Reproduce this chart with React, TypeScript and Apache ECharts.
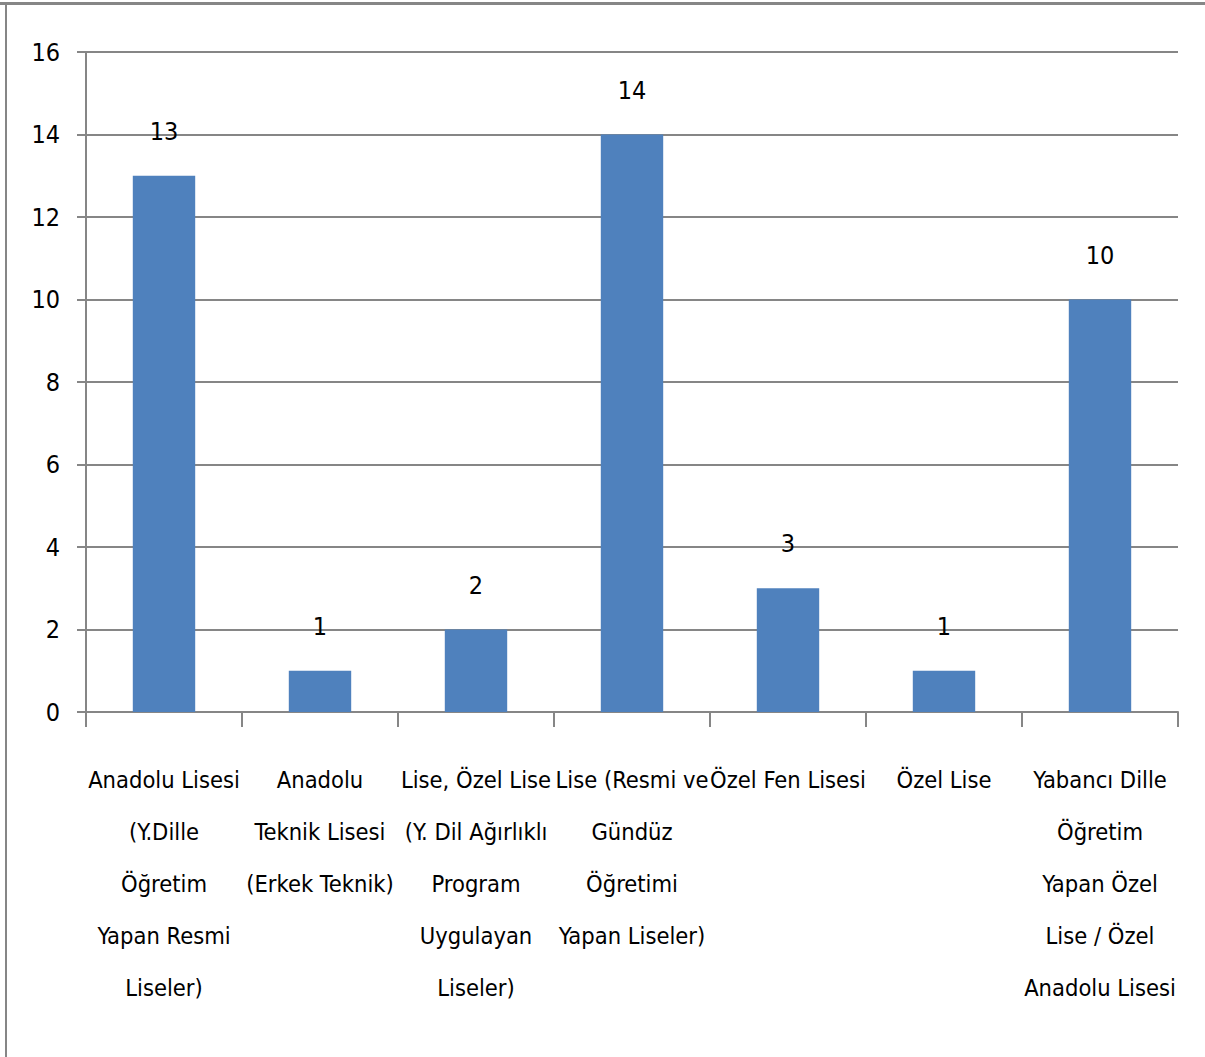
import React, { useEffect, useRef } from "react";
import * as echarts from "echarts";

const categories = [
  "Anadolu Lisesi\n(Y.Dille\nÖğretim\nYapan Resmi\nLiseler)",
  "Anadolu\nTeknik Lisesi\n(Erkek Teknik)",
  "Lise, Özel Lise\n(Y. Dil Ağırlıklı\nProgram\nUygulayan\nLiseler)",
  "Lise (Resmi ve\nGündüz\nÖğretimi\nYapan Liseler)",
  "Özel Fen Lisesi",
  "Özel Lise",
  "Yabancı Dille\nÖğretim\nYapan Özel\nLise / Özel\nAnadolu Lisesi",
];
const values = [13, 1, 2, 14, 3, 1, 10];
const yTicks = { min: 0, max: 16, interval: 2 };

const FONT = "'DejaVu Sans Condensed', 'Liberation Sans Narrow', 'Liberation Sans', sans-serif";
const AXIS_GRAY = "#868686";

export default function App() {
  const ref = useRef<HTMLDivElement>(null);
  useEffect(() => {
    if (!ref.current) return;
    const chart = echarts.init(ref.current, undefined, { renderer: "svg" });
    chart.setOption({
      animation: false,
      backgroundColor: "#ffffff",
      textStyle: { fontFamily: FONT },
      graphic: [
        { type: "rect", shape: { x: 0, y: 2, width: 1205, height: 3 }, style: { fill: "#868686" }, silent: true },
        { type: "rect", shape: { x: 5, y: 2, width: 2, height: 1055 }, style: { fill: "#868686" }, silent: true },
      ],
      grid: { left: 86, right: 27, top: 52, bottom: 345, containLabel: false },
      xAxis: {
        type: "category",
        data: categories,
        boundaryGap: true,
        axisLine: { show: true, lineStyle: { color: AXIS_GRAY, width: 2 } },
        axisTick: { show: true, length: 15, alignWithLabel: false, interval: 0, lineStyle: { color: AXIS_GRAY, width: 2 } },
        axisLabel: {
          interval: 0,
          margin: 42,
          color: "#000",
          fontFamily: FONT,
          fontSize: 23.5,
          lineHeight: 52,
          align: "center",
          verticalAlign: "top",
          hideOverlap: false,
        },
        splitLine: { show: false },
      },
      yAxis: {
        type: "value",
        min: yTicks.min,
        max: yTicks.max,
        interval: yTicks.interval,
        axisLine: { show: true, lineStyle: { color: AXIS_GRAY, width: 2 } },
        axisTick: { show: true, length: 9, lineStyle: { color: AXIS_GRAY, width: 2 } },
        axisLabel: { margin: 26, color: "#000", fontFamily: FONT, fontSize: 25 },
        splitLine: { show: true, lineStyle: { color: AXIS_GRAY, width: 2 } },
      },
      series: [
        {
          type: "bar",
          data: values,
          barWidth: "40%",
          itemStyle: { color: "#4F81BD" },
          label: {
            show: true,
            position: "top",
            distance: 32,
            color: "#000",
            fontFamily: FONT,
            fontSize: 25,
          },
        },
      ],
    });
    return () => chart.dispose();
  }, []);
  return (
    <div
      ref={ref}
      style={{ position: "absolute", left: 0, top: 0, width: 1205, height: 1057 }}
    />
  );
}
